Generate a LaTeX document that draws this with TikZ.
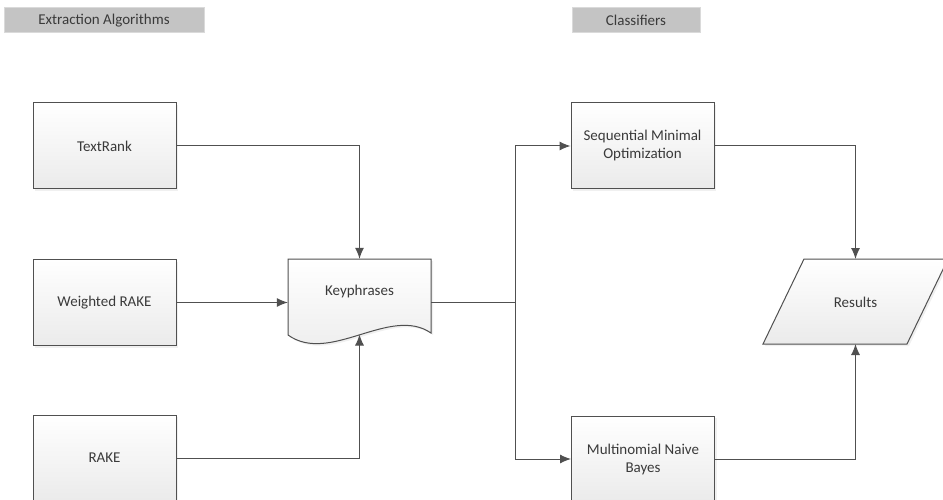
\documentclass[tikz,border=0pt]{standalone}
\usepackage{fontspec}
\setmainfont{Carlito}
\usepackage{tikz}
\usetikzlibrary{arrows.meta,shadows}
\definecolor{edgegray}{HTML}{505050}
\definecolor{textgray}{HTML}{3A3A3A}
\definecolor{headfill}{HTML}{C4C4C4}
\definecolor{headedge}{HTML}{DADADA}

\begin{document}
\begin{tikzpicture}[x=1pt, y=-1pt,
    font=\fontsize{15}{18}\selectfont, text=textgray,
    header/.style={draw=headedge, fill=headfill, line width=1pt,
      minimum height=25pt, inner sep=0pt},
    stage/.style={draw=edgegray, line width=1pt, top color=white,
      bottom color=black!8, minimum width=143pt, minimum height=86pt,
      align=center, inner sep=2pt,
      drop shadow={opacity=0.12, shadow xshift=2pt, shadow yshift=-2pt}},
    shapefill/.style={draw=edgegray, line width=1pt, top color=white,
      bottom color=black!8,
      drop shadow={opacity=0.12, shadow xshift=2pt, shadow yshift=-2pt}},
    flow/.style={draw=edgegray, line width=1pt,
      -{Latex[length=11pt,width=9pt]}}]

  \useasboundingbox (0,0) rectangle (943,500);
  \clip (0,0) rectangle (943,500);

  %% column headers
  \node[header, minimum width=200pt] (hextract) at (104,20.5) {Extraction Algorithms};
  \node[header, minimum width=128pt] (hclass) at (636,20) {Classifiers};

  %% extraction algorithms
  \node[stage] (textrank) at (104.5,146) {TextRank};
  \node[stage] (wrake) at (104.5,302.5) {Weighted RAKE};
  \node[stage] (rake) at (104.5,458) {RAKE};

  %% keyphrases document
  \path[shapefill] (288,259) -- (431,259) -- (431,333)
    .. controls (390,305) and (330,365) .. (288,335) -- cycle;
  \node[minimum width=143pt, minimum height=66pt, inner sep=0pt] (keys) at (359.5,292) {Keyphrases};
  \coordinate (keysbot) at (359.5,334.5);
  \coordinate (split) at (515,302);

  %% classifiers
  \node[stage] (smo) at (642.5,146) {Sequential Minimal\\Optimization};
  \node[stage] (mnb) at (643,459) {Multinomial Naive\\Bayes};

  %% results
  \path[shapefill] (763,344) -- (804,259) -- (948,259) -- (907,344) -- cycle;
  \node (results) at (855.5,302) {Results};
  \coordinate (restop) at (855.5,259);
  \coordinate (resbot) at (855.5,344);

  %% connectors
  \draw[flow] (textrank.east) -| (keys.north);
  \draw[flow] (wrake.east) -- (wrake.east -| keys.west);
  \draw[flow] (rake.east) -| (keysbot);
  \draw[edgegray, line width=1pt] (keys.east |- split) -- (split);
  \draw[flow] (split) |- (smo.west);
  \draw[flow] (split) |- (mnb.west);
  \draw[flow] (smo.east) -| (restop);
  \draw[flow] (mnb.east) -| (resbot);
\end{tikzpicture}
\end{document}
